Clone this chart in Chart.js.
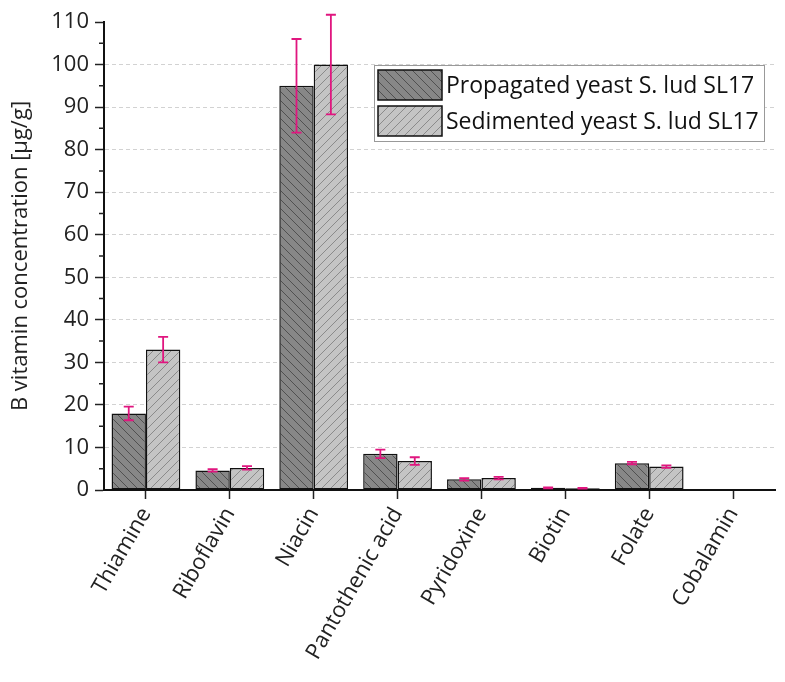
<!DOCTYPE html>
<html>
<head>
<meta charset="utf-8">
<script src="https://cdn.jsdelivr.net/npm/chart.js@4.4.0/dist/chart.umd.min.js"></script>
<style>
  html, body { margin: 0; background: #fff; }
  #wrap { width: 785px; height: 682px; }
</style>
</head>
<body>
<div id="wrap"><canvas id="chart"></canvas></div>
<script>
const categories = ['Thiamine', 'Riboflavin', 'Niacin', 'Pantothenic acid', 'Pyridoxine', 'Biotin', 'Folate', 'Cobalamin']
const propagated = [18, 4.6, 95, 8.5, 2.5, 0.5, 6.3, null]
const propagatedErr = [1.6, 0.3, 11, 1.0, 0.3, 0.1, 0.3, null]
const sedimented = [33, 5.2, 100, 6.8, 2.8, 0.4, 5.5, null]
const sedimentedErr = [3.0, 0.4, 11.7, 0.9, 0.3, 0.1, 0.3, null]
const seriesLabels = ['Propagated yeast S. lud SL17', 'Sedimented yeast S. lud SL17']
const yMax = 110
const yStep = 10

const FONT = "'Open Sans', 'Noto Sans', sans-serif"

// hatched fill, dir 1 = "\" lines, dir -1 = "/" lines
const hatch = (bg, fg, dir) => {
  const s = 9
  const c = document.createElement('canvas')
  c.width = s
  c.height = s
  const g = c.getContext('2d')
  g.fillStyle = bg
  g.fillRect(0, 0, s, s)
  g.strokeStyle = fg
  g.lineWidth = 1
  g.beginPath()
  for (let k = -1; k <= 1; k++) {
    if (dir > 0) {
      g.moveTo(k * s, 0)
      g.lineTo(k * s + s, s)
    } else {
      g.moveTo(k * s + s, 0)
      g.lineTo(k * s, s)
    }
  }
  g.stroke()
  return g.createPattern(c, 'repeat')
}

const ctx = document.getElementById('chart').getContext('2d')
const darkFill = hatch('#878787', '#505050', 1)
const lightFill = hatch('#c4c4c4', '#8a8a8a', -1)

const errors = [propagatedErr, sedimentedErr]

const errorBars = {
  id: 'errorBars',
  afterDatasetsDraw (chart) {
    const y = chart.scales.y
    const g = chart.ctx
    g.save()
    g.strokeStyle = '#e0167f'
    g.lineWidth = 1.8
    chart.data.datasets.forEach((ds, di) => {
      const meta = chart.getDatasetMeta(di)
      meta.data.forEach((bar, i) => {
        const v = ds.data[i]
        const e = errors[di][i]
        if (v == null || e == null) return
        const top = y.getPixelForValue(v + e)
        const bot = y.getPixelForValue(v - e)
        const x = bar.x
        g.beginPath()
        g.moveTo(x, top); g.lineTo(x, bot)
        g.moveTo(x - 5, top); g.lineTo(x + 5, top)
        g.moveTo(x - 5, bot); g.lineTo(x + 5, bot)
        g.stroke()
      })
    })
    g.restore()
  }
}

const minorTicks = {
  id: 'minorTicks',
  afterDraw (chart) {
    const y = chart.scales.y
    const g = chart.ctx
    const x0 = chart.chartArea.left
    g.save()
    g.strokeStyle = '#222'
    g.lineWidth = 1.5
    g.beginPath()
    for (let v = yStep / 2; v < yMax; v += yStep) {
      const py = y.getPixelForValue(v)
      g.moveTo(x0, py)
      g.lineTo(x0 - 5, py)
    }
    g.stroke()
    g.restore()
  }
}

const boxLegend = {
  id: 'boxLegend',
  afterDraw (chart) {
    const g = chart.ctx
    const left = 374
    const top = 65
    const w = 390
    const h = 76
    g.save()
    g.fillStyle = '#fff'
    g.fillRect(left, top, w, h)
    g.strokeStyle = '#999'
    g.lineWidth = 1
    g.strokeRect(left + 0.5, top + 0.5, w, h)
    g.font = '23px ' + FONT
    g.textBaseline = 'middle'
    chart.data.datasets.forEach((ds, i) => {
      const by = top + 5 + i * 36
      g.fillStyle = ds.backgroundColor
      g.fillRect(left + 4, by, 64, 30)
      g.strokeStyle = '#111'
      g.lineWidth = 1.5
      g.strokeRect(left + 4, by, 64, 30)
      g.fillStyle = '#111'
      g.fillText(ds.label, left + 72, by + 16)
    })
    g.restore()
  }
}

const chart = new Chart(ctx, {
  type: 'bar',
  data: {
    labels: categories,
    datasets: [{
      label: seriesLabels[0],
      data: propagated,
      backgroundColor: darkFill,
      borderColor: '#111',
      borderWidth: 1.5,
      borderSkipped: false,
      categoryPercentage: 0.82,
      barPercentage: 1
    }, {
      label: seriesLabels[1],
      data: sedimented,
      backgroundColor: lightFill,
      borderColor: '#111',
      borderWidth: 1.5,
      borderSkipped: false,
      categoryPercentage: 0.82,
      barPercentage: 1
    }]
  },
  options: {
    responsive: true,
    maintainAspectRatio: false,
    animation: false,
    layout: { padding: { top: 22, right: 10, left: 8, bottom: 0 } },
    plugins: {
      legend: { display: false },
      tooltip: { enabled: false }
    },
    scales: {
      x: {
        grid: {
          display: true,
          drawOnChartArea: false,
          drawTicks: true,
          offset: false,
          tickLength: 9,
          tickColor: '#222',
          tickWidth: 1.5
        },
        border: { color: '#111', width: 2 },
        ticks: {
          color: '#222',
          font: { family: FONT, size: 22 },
          minRotation: 60,
          maxRotation: 60,
          padding: 4
        },
        afterFit (scale) { scale.height = 192 }
      },
      y: {
        min: 0,
        max: yMax,
        grid: {
          color: (c) => (c.tick.value === 0 || c.tick.value === yMax) ? 'rgba(0,0,0,0)' : '#d2d2d2',
          tickBorderDash: [],
          tickColor: '#222',
          tickWidth: 1.5,
          tickLength: 9,
          lineWidth: 1
        },
        border: { color: '#111', width: 2, dash: [4, 3] },
        ticks: {
          stepSize: yStep,
          color: '#222',
          font: { family: FONT, size: 22 },
          padding: 6
        },
        title: {
          display: true,
          text: 'B vitamin concentration [μg/g]',
          color: '#222',
          font: { family: FONT, size: 22 },
          padding: { top: 0, bottom: 2 }
        },
        afterFit (scale) { scale.width = 96 }
      }
    }
  },
  plugins: [errorBars, minorTicks, boxLegend]
})
</script>
</body>
</html>
